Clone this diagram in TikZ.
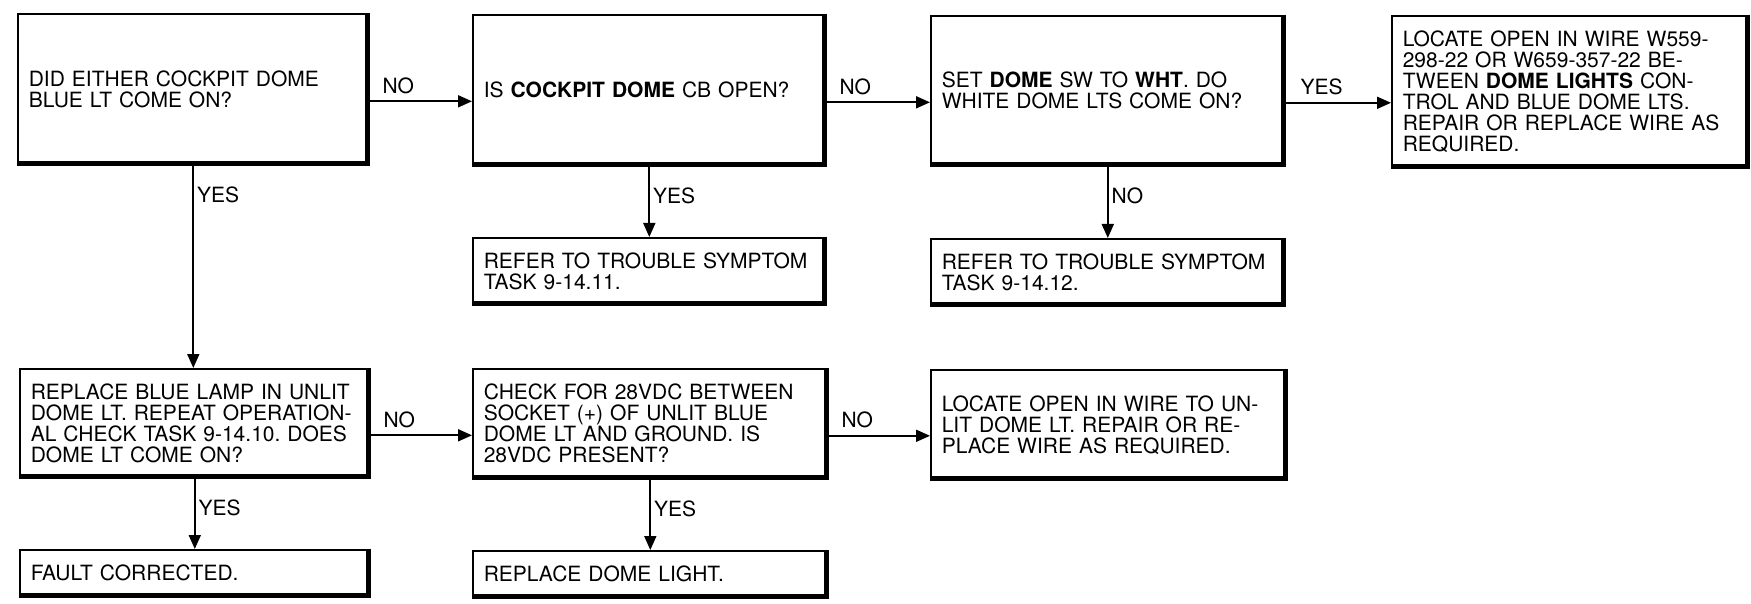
\documentclass[tikz,border=0pt]{standalone}
\usepackage{fontspec}
\setmainfont{TeX Gyre Heros}
\usetikzlibrary{arrows.meta}
\frenchspacing
\tikzset{
  box/.style={draw, line width=1.6pt, rectangle, anchor=north west, align=left,
    inner xsep=11pt, inner ysep=0pt, font=\fontsize{21}{21}\selectfont},
  rim/.style={line width=5pt},
  arr/.style={line width=1.8pt, -{Triangle[length=14pt,width=12pt]}},
  lbl/.style={inner sep=0pt, font=\fontsize{21}{21}\selectfont}
}

\begin{document}
\begin{tikzpicture}[x=1pt, y=-1pt]
  \useasboundingbox (0,0) rectangle (1751,604);
  % Top row
  \node[box, text width=329pt, minimum height=151pt] (blue) at (17,13)
    {DID EITHER COCKPIT DOME\\BLUE LT COME ON?};
  \node[box, text width=331pt, minimum height=151pt] (cb) at (472,14)
    {IS \textbf{COCKPIT DOME} CB OPEN?};
  \node[box, text width=332pt, minimum height=150pt] (white) at (930,15)
    {SET \textbf{DOME} SW TO \textbf{WHT}. DO\\WHITE DOME LTS COME ON?};
  \node[box, text width=335pt, minimum height=152pt] (wireA) at (1391,15)
    {LOCATE OPEN IN WIRE W559-\\298-22 OR W659-357-22 BE-\\TWEEN \textbf{DOME LIGHTS} CON-\\TROL AND BLUE DOME LTS.\\REPAIR OR REPLACE WIRE AS\\REQUIRED.};
  \node[box, text width=331pt, minimum height=67pt] (task11) at (472,237)
    {REFER TO TROUBLE SYMPTOM\\TASK 9-14.11.};
  \node[box, text width=332pt, minimum height=67pt] (task12) at (930,238)
    {REFER TO TROUBLE SYMPTOM\\TASK 9-14.12.};
  % Bottom row
  \node[box, text width=328pt, minimum height=109pt] (lamp) at (19,368)
    {REPLACE BLUE LAMP IN UNLIT\\DOME LT. REPEAT OPERATION-\\AL CHECK TASK 9-14.10. DOES\\DOME LT COME ON?};
  \node[box, text width=333pt, minimum height=110pt] (volts) at (472,368)
    {CHECK FOR 28VDC BETWEEN\\SOCKET (+) OF UNLIT BLUE\\DOME LT AND GROUND. IS\\28VDC PRESENT?};
  \node[box, text width=334pt, minimum height=110pt] (wireB) at (930,369)
    {LOCATE OPEN IN WIRE TO UN-\\LIT DOME LT. REPAIR OR RE-\\PLACE WIRE AS REQUIRED.};
  \node[box, text width=328pt, minimum height=47pt] (fixed) at (19,549)
    {FAULT CORRECTED.};
  \node[box, text width=333pt, minimum height=47pt] (light) at (472,550)
    {REPLACE DOME LIGHT.};
  % heavy right and bottom edges
  \foreach \n in {blue,cb,white,wireA,task11,task12,lamp,volts,wireB,fixed,light}
    \draw[rim] ([xshift=-2pt]\n.north east) -- ([xshift=-2pt,yshift=2pt]\n.south east)
      -- ([yshift=2pt]\n.south west);
  % NO / YES branches across
  \draw[arr] ([yshift=-12pt]blue.east) -- ([yshift=-12pt]blue.east -| cb.west)
    node[lbl, pos=0, anchor=south west, xshift=12pt, yshift=7pt] {NO};
  \draw[arr] ([yshift=-12pt]cb.east) -- ([yshift=-12pt]cb.east -| white.west)
    node[lbl, pos=0, anchor=south west, xshift=12pt, yshift=7pt] {NO};
  \draw[arr] ([yshift=-12pt]white.east) -- ([yshift=-12pt]white.east -| wireA.west)
    node[lbl, pos=0, anchor=south west, xshift=14pt, yshift=7pt] {YES};
  \draw[arr] ([yshift=-12pt]lamp.east) -- ([yshift=-12pt]lamp.east -| volts.west)
    node[lbl, pos=0, anchor=south west, xshift=12pt, yshift=7pt] {NO};
  \draw[arr] ([yshift=-12pt]volts.east) -- ([yshift=-12pt]volts.east -| wireB.west)
    node[lbl, pos=0, anchor=south west, xshift=12pt, yshift=7pt] {NO};
  % branches down
  \draw[arr] (blue.south) -- (blue.south |- lamp.north)
    node[lbl, pos=0, anchor=north west, xshift=3pt, yshift=-20pt] {YES};
  \draw[arr] (cb.south) -- (cb.south |- task11.north)
    node[lbl, pos=0, anchor=north west, xshift=3pt, yshift=-20pt] {YES};
  \draw[arr] (white.south) -- (white.south |- task12.north)
    node[lbl, pos=0, anchor=north west, xshift=3pt, yshift=-20pt] {NO};
  \draw[arr] (lamp.south) -- (lamp.south |- fixed.north)
    node[lbl, pos=0, anchor=north west, xshift=3pt, yshift=-20pt] {YES};
  \draw[arr] (volts.south) -- (volts.south |- light.north)
    node[lbl, pos=0, anchor=north west, xshift=3pt, yshift=-20pt] {YES};
\end{tikzpicture}
\end{document}
